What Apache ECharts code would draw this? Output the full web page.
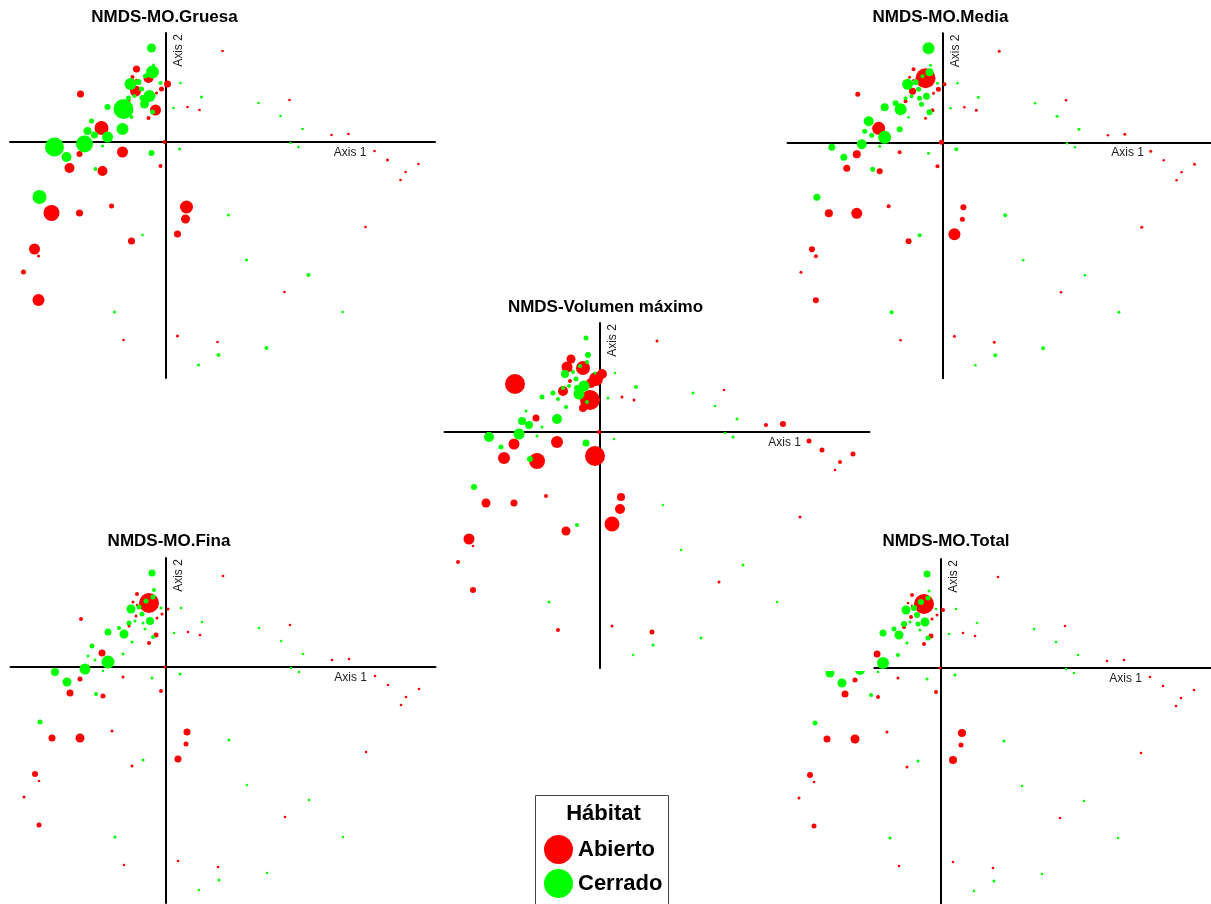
<!DOCTYPE html>
<html>
<head>
<meta charset="utf-8">
<title>NMDS - Hábitat</title>
<script src="https://cdn.jsdelivr.net/npm/echarts@6/dist/echarts.min.js"></script>
<style>
  html, body { margin: 0; padding: 0; background: #ffffff; }
  #chart { width: 1211px; height: 904px; }
</style>
</head>
<body>
<div id="chart"></div>
<script>
// NMDS site scores (shared ordination, one entry per sampling site)
const siteAxis1 = [
  0.57, 0.15, 0.36, 0.08, 0.22, 0.34, 0.93, 1.24, 1.15, 1.37, 1.66, 1.83, 0.14, 1.25, 1.33, 2.09, 2.22, 2.53,
  2.40, 2.35, -0.01, -0.05, 0.21, 0.20, 0.12, 0.63, 2.00, 0.81, 1.43, 1.19, 1.77, 0.12, 0.52, 1.01, 0.53, 0.33,
  -0.51, -0.42, -1.27, -1.42, -1.31, -1.27, -0.34, -0.23, -1.26, -1.14, -0.86, -0.54, -0.96, -0.70, -0.63,
  -0.86, -0.99, -0.43, -0.14, -1.11, -0.81, -0.63,
  -0.14, -0.12, -0.29, -0.13, -0.17, -0.20, -0.33, -0.29, -0.35, -0.27, 0.02, -0.05, -0.04, -0.30, -0.24, -0.09,
  -0.16, -0.31, -0.23, -0.37, -0.37, -0.21, -0.47, -0.58, -0.42, -0.10, -0.13, -0.17, -0.34, -0.85, -0.74,
  -0.64, -0.43, -0.78, -0.71, -0.58
];
const siteAxis2 = [
  0.91, 0.59, 0.45, 0.34, 0.35, 0.32, 0.39, 0.42, 0.26, 0.13, 0.07, 0.08, -0.07, -0.01, -0.05, -0.09, -0.18, -0.22,
  -0.30, -0.38, 0.00, -0.24, -0.65, -0.77, -0.92, -0.73, -0.85, -1.18, -1.33, -1.50, -1.70, -1.94, -2.00, -2.06, -2.13, -2.23,
  -1.70, -1.98, -1.58, -1.30, -1.07, -1.14, -0.99, -0.93, -0.55, -0.71, -0.71, -0.64, -0.26, -0.27, -0.29,
  -0.12, -0.15, -0.10, -0.11, -0.05, -0.02, -0.04,
  0.94, 0.77, 0.73, 0.70, 0.64, 0.66, 0.65, 0.62, 0.58, 0.60, 0.58, 0.59, 0.53, 0.51, 0.53, 0.49,
  0.46, 0.46, 0.44, 0.44, 0.41, 0.38, 0.39, 0.35, 0.33, 0.32, 0.30, 0.24, 0.25, 0.48, 0.21,
  0.14, 0.13, 0.11, 0.07, 0.05
];
// A = Abierto, C = Cerrado
const habitatCodes = [
  'ACCCAACACCAACCCAAAAAAAAAACACCACAACCC',
  'CAAAAAACCAAAACAACACCCC',
  'CCACACAACCACAACACCCCACCCCACACACACCCC'
].join('');

// Bubble values per site for each variable
const moGruesa = [
  1, 1, 1.5, 1, 1, 0.75, 1, 1, 1, 1, 0.75, 0.75, 1.5, 0.75, 0.75, 1, 1.5, 1, 1, 1, 2, 2, 6.5, 4.5, 3.5, 1.5, 1, 1.5, 2, 1, 0.75, 1.5, 0.75, 2, 2, 1.5,
  1.5, 0.75, 6, 2.5, 5.5, 1.5, 3.5, 1, 7, 8, 3.5, 2.5, 5, 2, 5, 3, 5, 5.5, 3, 9.5, 8.5, 1.5,
  4.5, 1.5, 3.5, 6.5, 5, 2.5, 2, 1, 6, 3, 3.5, 2, 2.5, 5.5, 2.5, 1.5, 6, 2, 3, 2.5, 2, 4.5, 2, 3, 10, 5.5, 2.5, 2, 2, 3.5, 2.5, 7, 6, 4, 3.5, 5.5
];
const moMedia = [
  1.5, 0.75, 1.5, 1, 1, 1.5, 0.75, 1, 1.5, 1.5, 0.75, 1.5, 2, 0.75, 0.75, 1.5, 1, 1.5, 1, 1, 2.5, 2, 3, 2.5, 6, 2, 1.5, 0.75, 0.75, 0.75, 1.5, 1.5, 1.5, 2, 2, 1,
  2, 1, 3, 1.5, 3, 2, 3, 2, 3.5, 4, 5.5, 2, 3.5, 2.5, 3, 4, 3.5, 2, 1.5, 3.5, 5, 1.5,
  6, 1.5, 2, 4, 10, 2, 1.5, 1, 5.5, 3, 2, 1.5, 2.5, 3.5, 2.5, 1.5, 3.5, 2, 2.5, 2, 2, 2.5, 3, 4, 6, 2, 3, 1.5, 1, 2.5, 5, 6.5, 3, 2.5, 2.5, 6.5
];
const volumenMaximo = [
  1.5, 1, 2, 1.5, 1.5, 1.5, 1.5, 0.75, 0.75, 1.5, 2, 3, 1, 0.5, 1.5, 2.5, 2.5, 2.5, 2, 1, 2, 10, 4, 5, 7.5, 0.75, 1.5, 0.75, 1.5, 1.5, 0.75, 1.5, 2.5, 1.5, 1.5, 0.75,
  1.5, 2, 3, 2, 5.5, 1, 4.5, 2, 3, 4.5, 3.5, 2, 6, 3, 8, 5.5, 2.5, 6, 3.5, 5, 5.5, 1.5,
  2.5, 3, 4.5, 2, 7, 2, 5.5, 1.5, 4, 2, 5, 1.5, 7, 2, 2.5, 5, 5.5, 2, 3, 2, 5, 5.5, 2.5, 2.5, 2, 10, 2, 4, 2, 10, 1.5, 3.5, 5, 4, 4, 1.5
];
const moFina = [
  1, 1, 1, 0.75, 0.75, 0.75, 0.75, 0.75, 0.75, 1, 0.75, 0.75, 1.5, 0.5, 0.75, 0.75, 1, 0.75, 0.75, 0.75, 1.5, 2, 3.5, 2.5, 3.5, 1.5, 0.75, 0.75, 0.75, 0.75, 0.75, 0.75, 0.75, 0.75, 1.5, 0.75,
  1.5, 0.75, 2.5, 1.5, 3, 1, 1.5, 1.5, 2.5, 3.5, 4.5, 1.5, 3.5, 2, 2.5, 2.5, 4.5, 1.5, 1.5, 4, 5.5, 1,
  3.5, 2, 2, 2.5, 10, 2.5, 1.5, 1, 4.5, 2.5, 1.5, 1.5, 1.5, 1.5, 2.5, 1.5, 4, 1.5, 1.5, 2.5, 1.5, 1.5, 2, 3.5, 4.5, 2.5, 2, 2, 1.5, 2, 2.5, 3.5, 1.5, 1.5, 1.5, 6.5
];
const moTotal = [
  1, 1, 1, 0.75, 1, 1, 0.75, 0.75, 0.75, 1, 1, 1, 1.5, 0.5, 1, 1, 1, 1, 1, 0.75, 1.5, 2, 4, 2.5, 4, 1.5, 1, 0.75, 0.75, 0.75, 0.75, 0.75, 0.75, 1, 1.5, 0.75,
  1.5, 0.75, 2.5, 1.5, 3, 1, 1.5, 1.5, 2.5, 3.5, 4.5, 1.5, 3.5, 2, 2, 2.5, 4.5, 1.5, 1.5, 4.5, 5, 1,
  3.5, 1.5, 2, 2.5, 10, 3, 1, 1, 4.5, 3, 2, 1, 1.5, 2, 3, 1.5, 4.5, 1.5, 2.5, 3, 2, 1.5, 2.5, 3.5, 4.5, 2.5, 2.5, 2, 1.5, 2.5, 2.5, 3.5, 2, 1.5, 1.5, 6
];

const HABITATS = ['Abierto', 'Cerrado'];
const HABITAT_COLORS = { Abierto: '#ff0000', Cerrado: '#00ff00' };
const habitat = habitatCodes.split('').map(c => (c === 'A' ? 'Abierto' : 'Cerrado'));

const FONT = '"Liberation Sans", Arial, Helvetica, sans-serif';
const AXIS1_RANGE = [-1.555, 2.695];
const AXIS2_RANGE = [-2.36, 1.09];
const PX_PER_UNIT = 100;      // same scale on both axes
const SIZE_SCALE = 2;         // bubble diameter in px per value unit
const MIN_BUBBLE = 2.6;       // smallest visible dot

// Panel layout: position of each ordination's origin on the page
const panels = [
  { name: 'NMDS-MO.Gruesa',      values: moGruesa,      origin: [165.5, 142],   titleAt: [164.5, 17] },
  { name: 'NMDS-MO.Media',       values: moMedia,       origin: [943, 142.3],   titleAt: [940.5, 17] },
  { name: 'NMDS-Volumen máximo', values: volumenMaximo, origin: [600, 432],     titleAt: [605.5, 307.5], front: true },
  { name: 'NMDS-MO.Fina',        values: moFina,        origin: [166, 667],     titleAt: [169, 541.5] },
  { name: 'NMDS-MO.Total',       values: moTotal,       origin: [941, 668],     titleAt: [946, 541.5] }
];

const gridW = (AXIS1_RANGE[1] - AXIS1_RANGE[0]) * PX_PER_UNIT;
const gridH = (AXIS2_RANGE[1] - AXIS2_RANGE[0]) * PX_PER_UNIT;

const grids = [], xAxes = [], yAxes = [], series = [], graphics = [];

panels.forEach((p, k) => {
  const left = p.origin[0] + AXIS1_RANGE[0] * PX_PER_UNIT;
  const top = p.origin[1] - AXIS2_RANGE[1] * PX_PER_UNIT;
  const axisZ = p.front ? 9 : 0;
  const seriesZ = p.front ? 10 : 2;
  grids.push({ left: left, top: top, width: gridW, height: gridH, containLabel: false });
  const axisCommon = {
    type: 'value', gridIndex: k, z: axisZ,
    axisLine: { show: true, onZero: true, lineStyle: { color: '#000000', width: 2 } },
    axisTick: { show: false }, axisLabel: { show: false }, splitLine: { show: false }
  };
  xAxes.push(Object.assign({}, axisCommon, { min: AXIS1_RANGE[0], max: AXIS1_RANGE[1] }));
  yAxes.push(Object.assign({}, axisCommon, { min: AXIS2_RANGE[0], max: AXIS2_RANGE[1] }));

  HABITATS.forEach(h => {
    const data = [];
    siteAxis1.forEach((x, i) => {
      if (habitat[i] === h) data.push([x, siteAxis2[i], p.values[i]]);
    });
    series.push({
      type: 'scatter', name: h, xAxisIndex: k, yAxisIndex: k, z: seriesZ,
      data: data,
      symbol: 'circle',
      symbolSize: v => Math.max(MIN_BUBBLE, v[2] * SIZE_SCALE),
      itemStyle: { color: HABITAT_COLORS[h], opacity: 1 },
      emphasis: { disabled: true },
      silent: true
    });
  });

  // the central panel sits on a white backing that hides whatever lies beneath it
  if (p.front) {
    graphics.push({
      type: 'rect', z: 5, silent: true,
      shape: { x: left - 4, y: top - 5, width: gridW + 8, height: gridH + 8 },
      style: { fill: '#ffffff' }
    });
  }

  graphics.push({
    type: 'text', z: 20, silent: true,
    x: p.titleAt[0], y: p.titleAt[1],
    style: { text: p.name, fill: '#000000', font: 'bold 17px ' + FONT, align: 'center', verticalAlign: 'middle' }
  });
  graphics.push({
    type: 'text', z: 20, silent: true,
    x: p.origin[0] + 201, y: p.origin[1] + 10.5,
    style: { text: 'Axis 1', fill: '#222222', font: '12px ' + FONT, align: 'right', verticalAlign: 'middle' }
  });
  graphics.push({
    type: 'text', z: 20, silent: true,
    x: p.origin[0] + 13, y: p.origin[1] - 91.5, rotation: Math.PI / 2,
    style: { text: 'Axis 2', fill: '#222222', font: '12px ' + FONT, align: 'center', verticalAlign: 'middle' }
  });
});

// legend frame and heading
graphics.push({
  type: 'rect', z: 1, silent: true,
  shape: { x: 535.5, y: 795.5, width: 133, height: 120 },
  style: { fill: '#ffffff', stroke: '#444444', lineWidth: 1 }
});
graphics.push({
  type: 'text', z: 20, silent: true,
  x: 603.5, y: 813.5,
  style: { text: 'Hábitat', fill: '#000000', font: 'bold 22px ' + FONT, align: 'center', verticalAlign: 'middle' }
});

const chart = echarts.init(document.getElementById('chart'), null, { renderer: 'canvas' });
chart.setOption({
  animation: false,
  backgroundColor: '#ffffff',
  grid: grids,
  xAxis: xAxes,
  yAxis: yAxes,
  legend: {
    data: HABITATS,
    orient: 'vertical',
    left: 544, top: 835,
    padding: 0,
    itemWidth: 29, itemHeight: 29, itemGap: 5,
    icon: 'circle',
    textStyle: { fontSize: 22, fontWeight: 'bold', color: '#000000', fontFamily: FONT }
  },
  graphic: { elements: graphics },
  series: series
});
</script>
</body>
</html>
